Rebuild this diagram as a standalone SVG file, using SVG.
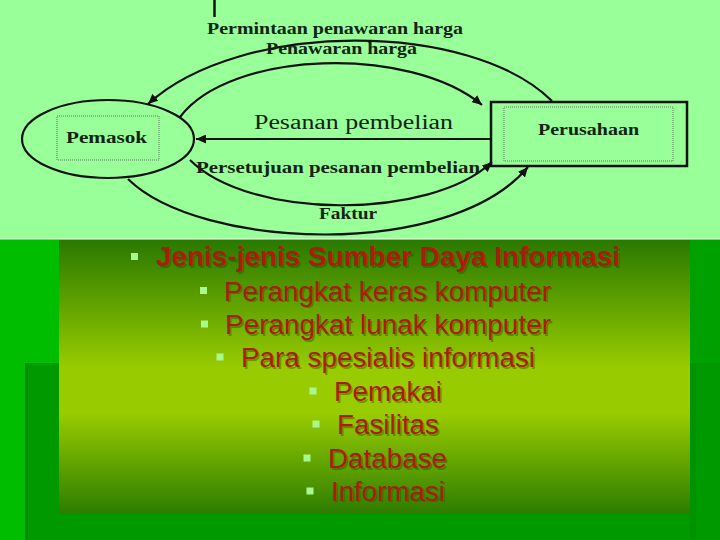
<svg xmlns="http://www.w3.org/2000/svg" width="720" height="540" viewBox="0 0 720 540">
<defs>
<linearGradient id="panelGrad" x1="0" y1="0" x2="0" y2="1">
<stop offset="0" stop-color="#2a7900"/>
<stop offset="0.47" stop-color="#99cc00"/>
<stop offset="0.63" stop-color="#99cc00"/>
<stop offset="1" stop-color="#2c7c00"/>
</linearGradient>
<marker id="arrow" markerUnits="userSpaceOnUse" markerWidth="11" markerHeight="9" refX="10" refY="4.5" orient="auto">
<path d="M0,0 L10,4.5 L0,9 z" fill="#111"/>
</marker>
<style>
.lbl{font-family:"Liberation Serif","Times New Roman",serif;font-weight:bold;font-size:17px;fill:#132313}
.lblr{font-family:"Liberation Serif","Times New Roman",serif;font-size:20px;fill:#132313}
.conn{fill:none;stroke:#111;stroke-width:2.2;marker-end:url(#arrow)}
.dots{fill:none;stroke:#555;stroke-width:0.8;stroke-dasharray:1 1}
.item{font-family:"Liberation Sans",Arial,sans-serif;font-size:27px;fill:#b01a0a}
.shadow{font-family:"Liberation Sans",Arial,sans-serif;font-size:27px;fill:#1f4a00;opacity:0.4}
.bul{fill:#a8f890}
</style>
</defs>

<!-- lower background -->
<rect x="0" y="238" width="720" height="302" fill="#00bd00"/>
<rect x="59" y="240" width="661" height="123" fill="#00a000"/>
<rect x="25" y="363" width="695" height="177" fill="#009a00"/>
<rect x="25" y="363" width="3" height="177" fill="#008a00"/>
<rect x="690" y="363" width="6" height="177" fill="#009200"/>
<rect x="59" y="240" width="631" height="274" fill="url(#panelGrad)"/>

<!-- top diagram background -->
<rect x="0" y="0" width="720" height="238" fill="#99ff99"/>
<rect x="0" y="238" width="720" height="1.5" fill="#ccffcc"/>
<line x1="214.5" y1="0" x2="214.5" y2="17" stroke="#111" stroke-width="2.5"/>

<g id="pemasok">
<ellipse cx="108" cy="139" rx="86" ry="39" fill="none" stroke="#111" stroke-width="2.2"/>
<rect class="dots" x="57" y="116" width="102" height="44"/>
<text class="lbl" x="66" y="143" textLength="81" lengthAdjust="spacingAndGlyphs">Pemasok</text>
</g>

<g id="perusahaan">
<rect x="491" y="102" width="196" height="64" fill="none" stroke="#111" stroke-width="2.5"/>
<rect class="dots" x="504" y="107" width="169" height="54"/>
<text class="lbl" x="538" y="135" textLength="101" lengthAdjust="spacingAndGlyphs">Perusahaan</text>
</g>

<g id="connectors">
<path class="conn" d="M552,101 C470,20 240,20 148,104"/>
<path class="conn" d="M180,117 C230,50 410,45 482,105"/>
<path class="conn" d="M491,139 L196,139"/>
<path class="conn" d="M190,160 C250,220 430,220 492,162"/>
<path class="conn" d="M128,179 C200,250 450,260 528,167"/>
<text class="lbl" x="207" y="34" textLength="256" lengthAdjust="spacingAndGlyphs">Permintaan penawaran harga</text>
<text class="lbl" x="266" y="54" textLength="151" lengthAdjust="spacingAndGlyphs">Penawaran harga</text>
<text class="lblr" x="254" y="129" textLength="199" lengthAdjust="spacingAndGlyphs">Pesanan pembelian</text>
<text class="lbl" x="196" y="173" textLength="284" lengthAdjust="spacingAndGlyphs">Persetujuan pesanan pembelian</text>
<text class="lbl" x="319" y="219" textLength="58" lengthAdjust="spacingAndGlyphs">Faktur</text>
</g>

<g id="list">
<rect class="bul" x="131" y="253" width="7" height="7"/>
<text class="shadow" x="157.5" y="267.5" font-weight="bold" textLength="464" lengthAdjust="spacingAndGlyphs">Jenis-jenis Sumber Daya Informasi</text>
<text class="item" x="156" y="266" font-weight="bold" textLength="464" lengthAdjust="spacingAndGlyphs">Jenis-jenis Sumber Daya Informasi</text>

<rect class="bul" x="200" y="287" width="7" height="7"/>
<text class="shadow" x="225.5" y="302" textLength="327" lengthAdjust="spacingAndGlyphs">Perangkat keras komputer</text>
<text class="item" x="224" y="300.5" textLength="327" lengthAdjust="spacingAndGlyphs">Perangkat keras komputer</text>

<rect class="bul" x="201" y="320.5" width="7" height="7"/>
<text class="shadow" x="226.5" y="335.5" textLength="326" lengthAdjust="spacingAndGlyphs">Perangkat lunak komputer</text>
<text class="item" x="225" y="334" textLength="326" lengthAdjust="spacingAndGlyphs">Perangkat lunak komputer</text>

<rect class="bul" x="216.5" y="353.5" width="7" height="7"/>
<text class="shadow" x="242.5" y="368.5" textLength="294" lengthAdjust="spacingAndGlyphs">Para spesialis informasi</text>
<text class="item" x="241" y="367" textLength="294" lengthAdjust="spacingAndGlyphs">Para spesialis informasi</text>

<rect class="bul" x="309.5" y="387.5" width="7" height="7"/>
<text class="shadow" x="335.5" y="402.5" textLength="108" lengthAdjust="spacingAndGlyphs">Pemakai</text>
<text class="item" x="334" y="401" textLength="108" lengthAdjust="spacingAndGlyphs">Pemakai</text>

<rect class="bul" x="312.5" y="420.5" width="7" height="7"/>
<text class="shadow" x="338.5" y="435.5" textLength="102" lengthAdjust="spacingAndGlyphs">Fasilitas</text>
<text class="item" x="337" y="434" textLength="102" lengthAdjust="spacingAndGlyphs">Fasilitas</text>

<rect class="bul" x="303.5" y="454.5" width="7" height="7"/>
<text class="shadow" x="329.5" y="469.5" textLength="119" lengthAdjust="spacingAndGlyphs">Database</text>
<text class="item" x="328" y="468" textLength="119" lengthAdjust="spacingAndGlyphs">Database</text>

<rect class="bul" x="306.5" y="487.5" width="7" height="7"/>
<text class="shadow" x="332.5" y="502" textLength="114" lengthAdjust="spacingAndGlyphs">Informasi</text>
<text class="item" x="331" y="500.5" textLength="114" lengthAdjust="spacingAndGlyphs">Informasi</text>
</g>
</svg>
